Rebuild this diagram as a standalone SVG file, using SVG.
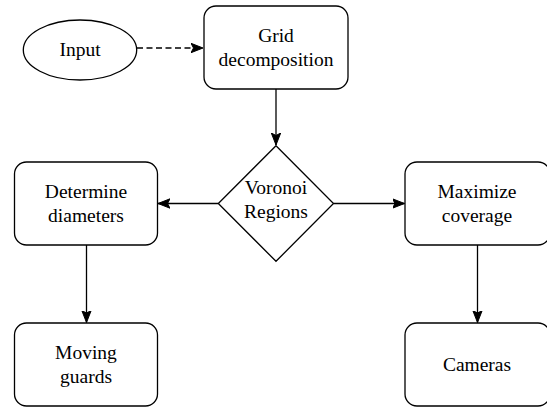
<svg xmlns="http://www.w3.org/2000/svg" width="547" height="409" viewBox="0 0 547 409">
<defs>
<marker id="arr" markerUnits="userSpaceOnUse" markerWidth="14" markerHeight="12" viewBox="0 0 14 12" refX="12" refY="6" orient="auto">
<path d="M0,1.3 L12,6 L0,10.7 L2.5,6 Z" fill="#000" stroke="#000" stroke-width="1"/>
</marker>
<style>
.n{fill:#fff;stroke:#000;stroke-width:1.3}
.t{font-family:"Liberation Serif","Times New Roman",serif;font-size:19.5px;fill:#000;text-anchor:middle}
.c{fill:none;stroke:#000;stroke-width:1.3;marker-end:url(#arr)}
</style>
</defs>
<rect width="547" height="409" fill="#fff"/>
<g id="connectors">
<path class="c" d="M137,48 H203" stroke-dasharray="6 3.5"/>
<path class="c" d="M276,89 V145"/>
<path class="c" d="M218,203.5 H158"/>
<path class="c" d="M333.5,203.5 H404.5"/>
<path class="c" d="M86.5,245 V322.5"/>
<path class="c" d="M477.5,245 V322.5"/>
</g>
<g id="input">
<ellipse class="n" cx="80" cy="50" rx="56.7" ry="30"/>
<text class="t" x="80" y="56">Input</text>
</g>
<g id="grid">
<rect class="n" x="204" y="6" width="144" height="83" rx="12"/>
<text class="t" x="276" y="41.5">Grid</text>
<text class="t" x="276" y="65.5">decomposition</text>
</g>
<g id="voronoi">
<path class="n" d="M276,145.7 L333.5,203.5 L276,261.3 L218.3,203.5 Z"/>
<text class="t" x="276" y="193.5">Voronoi</text>
<text class="t" x="276" y="217.5">Regions</text>
</g>
<g id="determine">
<rect class="n" x="14.5" y="162" width="143" height="83" rx="12"/>
<text class="t" x="86" y="198">Determine</text>
<text class="t" x="86" y="222">diameters</text>
</g>
<g id="maximize">
<rect class="n" x="405" y="162" width="145" height="83" rx="12"/>
<text class="t" x="477" y="198">Maximize</text>
<text class="t" x="477" y="222">coverage</text>
</g>
<g id="moving">
<rect class="n" x="14.5" y="323" width="143" height="83" rx="12"/>
<text class="t" x="86" y="359">Moving</text>
<text class="t" x="86" y="383">guards</text>
</g>
<g id="cameras">
<rect class="n" x="405" y="323" width="145" height="83" rx="12"/>
<text class="t" x="477" y="371">Cameras</text>
</g>
</svg>
